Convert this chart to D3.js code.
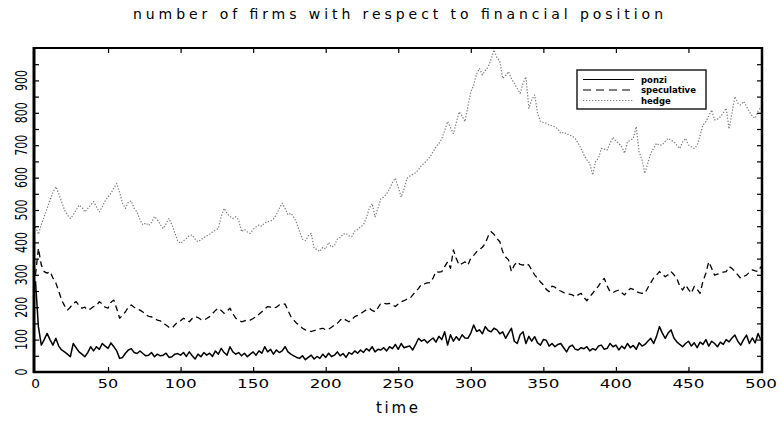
<!DOCTYPE html>
<meta charset="utf-8">
<style>
body {margin: 0; background: #fff;}
text {font-family: "DejaVu Sans", sans-serif; fill: #000;}
.axis line {stroke: #000; stroke-width: 1.2;}
</style>
<html>
<body>
<script src="https://d3js.org/d3.v7.min.js"></script>
<script>
var width = 781,
    height = 423;

// one reading every 2 time steps, t = 0 .. 500
var timeStep = 2;

var ponzi = [
  280, 140, 83, 100, 119, 100, 83, 104, 80, 68,
  62, 55, 47, 88, 75, 62, 55, 47, 60, 78,
  65, 78, 70, 88, 80, 73, 90, 78, 65, 42,
  45, 58, 68, 72, 60, 57, 65, 57, 50, 52,
  60, 47, 55, 50, 52, 58, 45, 47, 55, 57,
  52, 60, 48, 62, 50, 40, 55, 47, 60, 52,
  58, 48, 65, 55, 73, 60, 52, 78, 62, 55,
  60, 50, 58, 47, 55, 62, 52, 65, 58, 78,
  62, 70, 55, 68, 60, 65, 78, 62, 55, 50,
  45, 42, 50, 38, 45, 52, 40, 48, 42, 55,
  45, 58, 48, 52, 62, 50, 57, 45, 60, 55,
  65, 58, 68, 60, 72, 65, 78, 62, 70, 68,
  75, 65, 78, 72, 85, 70, 88, 75, 78, 80,
  68, 85, 104, 95, 100, 90, 98, 105, 92, 110,
  100, 124, 83, 115, 95, 109, 98, 115, 105, 104,
  120, 145, 125, 130, 118, 140, 128, 124, 135, 130,
  118, 124, 104, 120, 135, 95, 88, 115, 124, 88,
  110, 95, 109, 90, 83, 100, 98, 80, 88, 78,
  85, 88, 75, 62, 78, 83, 70, 68, 75, 72,
  78, 65, 72, 68, 80, 83, 70, 73, 88, 78,
  83, 68, 80, 72, 88, 75, 82, 70, 90, 80,
  85, 95, 104, 88, 110, 140, 120, 104, 120, 130,
  105, 93, 85, 78, 88, 95, 80, 90, 75, 92,
  85, 100, 80, 95, 88, 78, 92, 85, 100, 93,
  105, 114, 95, 83, 100, 114, 88, 105, 90, 119,
  98
];

var speculative = [
  300, 382, 330, 310, 305, 310, 290, 275, 250, 222,
  205, 191, 200, 212, 217, 205, 197, 200, 191, 195,
  202, 205, 217, 210, 200, 197, 215, 222, 195, 166,
  175, 186, 200, 207, 200, 195, 191, 185, 176, 172,
  170, 166, 160, 158, 150, 145, 138, 135, 145, 155,
  158, 166, 160, 155, 165, 171, 168, 162, 160, 165,
  171, 180, 190, 197, 190, 181, 188, 197, 180, 166,
  160, 155, 158, 160, 160, 165, 171, 178, 186, 195,
  202, 200, 197, 200, 207, 207, 210, 190, 171, 160,
  150, 145, 135, 130, 128, 125, 128, 130, 133, 135,
  130, 132, 138, 145, 150, 160, 166, 160, 155, 162,
  171, 175, 180, 186, 192, 197, 190, 186, 198, 212,
  212, 210, 212, 207, 202, 210, 217, 220, 225, 227,
  238, 248, 258, 271, 272, 275, 276, 290, 310, 308,
  310, 325, 340, 320, 377, 350, 330, 335, 340, 330,
  351, 360, 371, 378, 385, 397, 420, 433, 425, 412,
  402, 371, 355, 346, 310, 330, 340, 332, 330, 335,
  330, 315, 300, 289, 278, 269, 255, 248, 265, 262,
  253, 250, 245, 243, 240, 238, 232, 238, 243, 230,
  220, 232, 243, 255, 265, 280, 289, 265, 248, 245,
  250, 253, 245, 238, 250, 258, 255, 248, 245, 243,
  243, 260, 275, 290, 299, 310, 302, 294, 300, 310,
  300, 289, 265, 253, 269, 255, 243, 264, 255, 243,
  280, 305, 340, 320, 299, 302, 305, 308, 310, 325,
  320, 310, 300, 289, 295, 299, 308, 315, 312, 310,
  325
];

var hedge = [
  448, 425, 455, 480, 505, 530, 555, 572, 550, 525,
  500, 485, 474, 485, 500, 515, 508, 494, 505, 515,
  526, 510, 494, 510, 528, 540, 552, 568, 582, 555,
  520, 505, 525, 528, 505, 494, 470, 454, 460, 452,
  462, 480, 470, 455, 443, 458, 474, 455, 430, 405,
  397, 405, 412, 420, 423, 410, 402, 408, 415, 420,
  425, 432, 438, 443, 480, 505, 489, 480, 474, 479,
  470, 433, 440, 432, 428, 440, 448, 454, 450, 460,
  464, 466, 472, 485, 505, 521, 505, 485, 490, 478,
  460, 433, 410, 405, 420, 428, 382, 378, 372, 385,
  380, 400, 385, 390, 410, 415, 425, 428, 420, 418,
  435, 440, 448, 454, 475, 505, 520, 479, 505, 535,
  540, 550, 565, 585, 598, 570, 540, 565, 598, 605,
  610, 615, 625, 637, 645, 655, 665, 680, 695, 705,
  720, 745, 773, 755, 736, 770, 803, 790, 773, 819,
  865, 886, 920, 937, 917, 930, 942, 965, 994, 970,
  960, 906, 915, 927, 905, 891, 875, 860, 890, 911,
  814, 840, 855, 800, 773, 770, 768, 762, 760, 757,
  750, 736, 740, 735, 731, 728, 720, 706, 690, 670,
  655, 644, 608, 650, 660, 690, 688, 685, 706, 725,
  712, 705, 695, 675, 711, 715, 721, 757, 680, 654,
  613, 645, 675, 690, 706, 700, 701, 712, 721, 715,
  711, 700, 690, 710, 721, 701, 695, 690, 700, 730,
  762, 773, 790, 809, 778, 780, 788, 800, 814, 750,
  799, 850, 830, 824, 835, 820, 803, 790, 783, 805,
  819
];

var xTicks = [0, 50, 100, 150, 200, 250, 300, 350, 400, 450, 500];
var yTicks = [0, 100, 200, 300, 400, 500, 600, 700, 800, 900];
var yMinor = [50, 100, 150, 200, 250, 300, 350, 400, 450, 500, 550, 600, 650, 700, 750, 800, 850, 900, 950];
var seriesNames = ["ponzi", "speculative", "hedge"];

var svg = d3.select("body").append("svg")
    .attr("width", width)
    .attr("height", height);

var x = d3.scaleLinear().domain([0, 500]).range([35.5, 761]);
var y = d3.scaleLinear().domain([0, 1000]).range([372, 48]);

// title
svg.append("text")
    .attr("x", 398).attr("y", 19)
    .attr("text-anchor", "middle")
    .attr("font-size", 14)
    .attr("textLength", 530)
    .attr("lengthAdjust", "spacing")
    .text("number of firms with respect to financial position");

// inward ticks on all four sides
function noDomain(g) { g.select(".domain").remove(); }

svg.append("g").attr("class", "axis")
    .attr("transform", "translate(0,48)")
    .call(d3.axisTop(x).tickValues(xTicks.slice(1, -1)).tickSize(-5).tickFormat(""))
    .call(noDomain);
svg.append("g").attr("class", "axis")
    .attr("transform", "translate(0,372)")
    .call(d3.axisBottom(x).tickValues(xTicks.slice(1, -1)).tickSize(-5).tickFormat(""))
    .call(noDomain);
svg.append("g").attr("class", "axis")
    .attr("transform", "translate(34,0)")
    .call(d3.axisLeft(y).tickValues(yMinor).tickSize(-5).tickFormat(""))
    .call(noDomain);
svg.append("g").attr("class", "axis")
    .attr("transform", "translate(762,0)")
    .call(d3.axisRight(y).tickValues(yMinor).tickSize(-5).tickFormat(""))
    .call(noDomain);

// x tick labels
svg.append("g").selectAll("text")
    .data(xTicks)
    .enter().append("text")
    .attr("x", function(d) { return x(d); })
    .attr("y", 388)
    .attr("text-anchor", "middle")
    .attr("font-size", 11.5)
    .attr("textLength", function(d) { return String(d).length * 11.7 - 3; })
    .attr("lengthAdjust", "spacingAndGlyphs")
    .text(function(d) { return d; });

// y tick labels, turned
svg.append("g").selectAll("text")
    .data(yTicks)
    .enter().append("text")
    .attr("transform", function(d) { return "translate(27," + y(d) + ") rotate(-90)"; })
    .attr("text-anchor", "middle")
    .attr("font-size", 16)
    .attr("textLength", function(d) { return String(d).length * 7; })
    .attr("lengthAdjust", "spacingAndGlyphs")
    .text(function(d) { return d; });

svg.append("text")
    .attr("x", 397).attr("y", 413)
    .attr("text-anchor", "middle")
    .attr("font-size", 15)
    .attr("textLength", 42)
    .attr("lengthAdjust", "spacing")
    .text("time");

// series
var line = d3.line()
    .x(function(d, i) { return x(i * timeStep); })
    .y(function(d) { return y(d); });

var styles = {
  ponzi:       {color: "#000", width: 1.5, dash: null},
  speculative: {color: "#000", width: 1.3, dash: "6,4"},
  hedge:       {color: "#7a7a7a", width: 1.2, dash: "1.3,1.7"}
};
var data = {ponzi: ponzi, speculative: speculative, hedge: hedge};

seriesNames.slice().reverse().forEach(function(name) {
  svg.append("path")
      .attr("d", line(data[name]))
      .attr("fill", "none")
      .attr("stroke", styles[name].color)
      .attr("stroke-width", styles[name].width)
      .attr("stroke-dasharray", styles[name].dash)
      .attr("stroke-linejoin", "round");
});

// frame
svg.append("line").attr("x1", 33).attr("x2", 763).attr("y1", 48).attr("y2", 48)
    .attr("stroke", "#000").attr("stroke-width", 2);
svg.append("line").attr("x1", 33).attr("x2", 763).attr("y1", 372).attr("y2", 372)
    .attr("stroke", "#000").attr("stroke-width", 2.5);
svg.append("line").attr("x1", 34).attr("x2", 34).attr("y1", 47).attr("y2", 373)
    .attr("stroke", "#000").attr("stroke-width", 3);
svg.append("line").attr("x1", 762).attr("x2", 762).attr("y1", 47).attr("y2", 373)
    .attr("stroke", "#000").attr("stroke-width", 2.5);

// legend
var legend = svg.append("g").attr("transform", "translate(577,70)");
legend.append("rect")
    .attr("width", 129).attr("height", 39)
    .attr("fill", "#fff")
    .attr("stroke", "#222").attr("stroke-width", 1.5);
var rows = legend.selectAll("g.row")
    .data(seriesNames)
    .enter().append("g")
    .attr("class", "row")
    .attr("transform", function(d, i) { return "translate(0," + (9.5 + i * 10.5) + ")"; });
rows.append("line")
    .attr("x1", 6).attr("x2", 57)
    .attr("stroke", function(d) { return styles[d].color; })
    .attr("stroke-width", function(d) { return d === "ponzi" ? 1 : styles[d].width * 0.8; })
    .attr("stroke-dasharray", function(d) { return d === "speculative" ? "8,5" : styles[d].dash; });
rows.append("text")
    .attr("x", 64).attr("y", 3)
    .attr("font-size", 8.5)
    .attr("font-weight", "bold")
    .text(function(d) { return d; });
</script>
</body>
</html>
